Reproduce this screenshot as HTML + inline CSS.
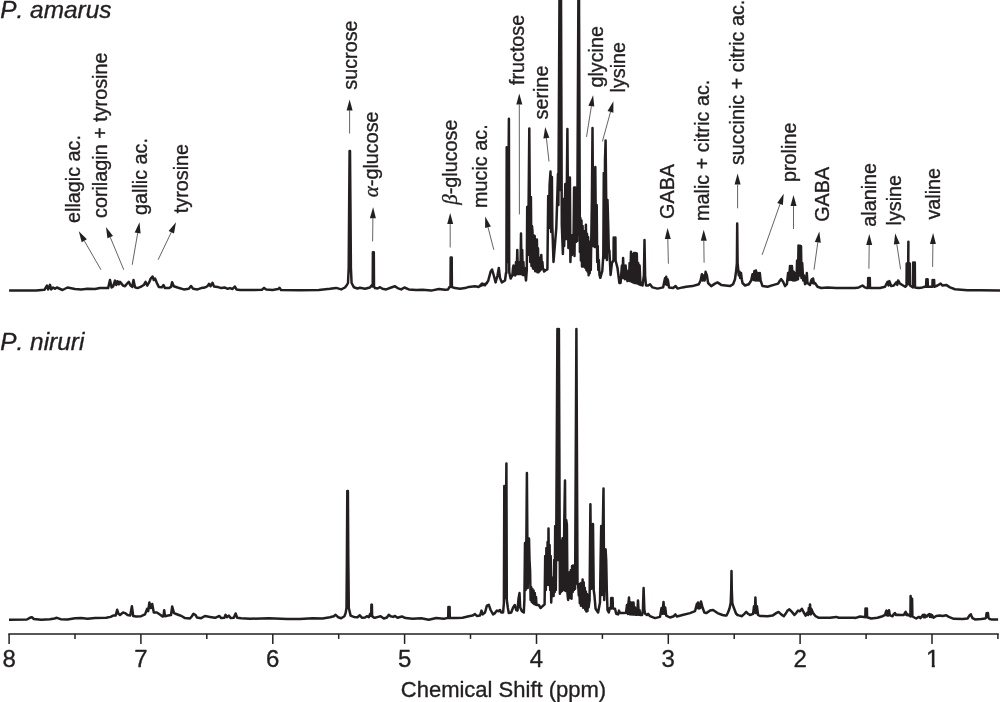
<!DOCTYPE html>
<html lang="en"><head><meta charset="utf-8"><title>1H NMR spectra of P. amarus and P. niruri</title>
<style>
html,body{margin:0;padding:0;background:#fff;}
body{width:1000px;height:702px;overflow:hidden;}
svg{display:block;}
text{font-family:"Liberation Sans",Arial,Helvetica,sans-serif;fill:#231f20;font-kerning:none;stroke:#231f20;stroke-width:0.35px;stroke-linejoin:round;}
.lab{font-size:19.8px;}
.ttl{font-size:24.4px;font-style:italic;font-kerning:none;}
.tick{font-size:24px;text-anchor:middle;}
.axt{font-size:22px;text-anchor:middle;}
.gr{font-family:"Liberation Serif","DejaVu Serif",serif;font-style:italic;font-size:21px;}
.spec{fill:none;stroke:#231f20;stroke-width:2.5;stroke-linejoin:round;stroke-linecap:butt;}
.arr{stroke:#231f20;stroke-width:0.7;fill:none;}
.ah{fill:#231f20;stroke:none;}
.ax{stroke:#231f20;stroke-width:1.5;fill:none;}
</style></head><body>
<svg width="1000" height="702" viewBox="0 0 1000 702">
<rect width="1000" height="702" fill="#fff"/>
<text class="ttl" x="0.3" y="18.3">P. amarus</text>
<text class="ttl" x="0.3" y="349.8">P. niruri</text>
<polyline class="spec" points="9.1,290.6 36.2,290.4 44.4,289.8 46.9,285.6 48.1,289.4 50.0,284.8 51.2,289.4 53.1,287.5 55.0,288.8 56.9,287.5 62.5,290.0 67.5,287.5 75.0,289.0 81.2,289.4 87.5,288.8 95.0,289.1 100.0,288.1 108.1,288.1 110.0,280.0 111.6,287.5 113.1,286.5 115.0,280.6 116.2,285.0 117.5,281.2 118.8,284.4 120.0,281.9 123.1,285.6 125.0,286.2 126.9,283.8 128.8,281.9 130.6,285.6 132.2,286.9 133.5,280.0 135.0,287.2 137.5,288.1 140.6,286.9 143.8,285.0 145.6,281.9 147.2,285.6 149.4,281.9 150.6,278.8 152.5,276.5 153.8,280.0 155.0,278.5 156.9,283.1 158.8,286.9 161.9,287.2 163.5,285.0 165.0,288.1 168.8,288.1 171.0,286.9 172.1,282.2 173.8,286.2 177.5,287.5 183.8,289.4 188.8,288.8 191.0,286.0 193.1,288.8 197.5,289.4 201.2,288.1 205.0,287.5 207.5,286.2 209.0,283.8 210.6,286.2 212.5,282.8 214.0,286.5 217.5,286.9 221.2,288.1 225.0,287.5 227.5,288.8 230.0,288.1 232.5,289.0 234.8,286.5 236.5,289.4 240.0,290.0 250.0,290.0 250.0,290.0 261.9,289.8 264.1,287.9 266.2,289.4 272.5,290.0 278.1,289.1 279.6,287.8 281.0,290.0 300.0,290.2 318.8,290.0 330.0,288.8 336.2,287.9 341.2,289.4 345.0,287.5 346.9,285.0 348.0,283.0 348.7,268.0 349.2,200.0 349.6,151.0 350.0,151.0 350.4,200.0 350.9,268.0 351.6,283.0 353.8,287.2 357.5,288.5 360.0,287.8 365.0,288.8 370.0,287.5 371.5,285.6 372.7,286.5 372.9,252.3 373.4,285.0 373.8,252.3 374.0,286.5 375.0,288.1 377.5,288.5 380.0,287.2 382.5,288.8 386.2,289.4 391.2,287.5 395.0,286.2 397.5,288.1 401.2,289.4 404.4,287.5 408.8,289.4 416.2,290.0 422.5,289.8 431.2,290.6 438.8,289.0 445.0,289.8 448.1,289.4 449.5,286.9 450.5,287.0 450.7,257.5 451.2,285.5 451.7,257.5 451.9,287.0 455.0,288.1 460.0,288.8 465.0,288.1 468.8,286.9 475.0,286.2 478.8,286.9 482.2,283.5 483.8,285.0 486.9,283.1 480.0,286.1 482.5,284.3 485.0,285.3 488.1,281.1 490.6,271.8 492.1,269.5 493.8,275.5 495.6,282.4 497.5,275.5 498.8,268.0 500.0,278.0 501.9,282.4 505.0,280.5 506.0,273.0 506.4,273.0 506.7,147.3 507.8,262.0 508.9,118.8 509.2,272.0 510.6,278.6 512.3,275.5 513.0,268.0 513.5,265.5 514.1,275.0 514.7,266.0 515.3,275.5 516.0,262.0 516.6,274.0 517.3,249.9 517.9,274.0 518.5,262.0 519.1,274.0 519.8,265.0 520.4,274.0 521.0,233.6 521.6,274.0 522.2,250.0 522.8,275.0 523.4,262.0 524.0,275.0 524.6,268.0 526.0,280.5 526.8,270.0 527.2,207.0 527.8,255.0 528.5,215.0 529.3,128.5 530.2,262.0 530.9,197.0 531.5,266.0 532.0,226.0 532.5,231.7 533.0,268.4 533.6,235.2 534.1,269.0 534.7,235.9 535.2,271.3 535.8,240.2 536.3,269.7 536.9,239.4 537.4,272.3 538.0,248.3 538.5,272.3 539.1,257.6 539.6,271.3 540.2,258.8 540.7,270.0 541.3,254.9 541.8,267.9 542.4,262.0 542.9,268.9 543.5,268.9 544.0,271.6 546.0,270.0 547.4,269.3 548.2,196.0 548.9,228.0 549.6,185.0 550.5,171.5 551.2,232.0 551.9,177.0 552.3,225.0 553.5,262.0 556.3,228.0 557.2,200.0 558.0,174.0 558.4,205.0 559.5,-6.0 560.2,190.0 561.0,-6.0 561.8,225.0 562.9,253.9 563.6,199.0 564.2,246.0 565.3,184.0 566.3,238.9 566.9,180.0 567.4,129.0 567.9,200.0 568.4,247.9 569.0,195.0 569.9,177.5 570.4,261.9 571.3,235.0 571.9,254.9 572.6,238.0 573.4,251.9 574.1,187.4 574.5,255.9 575.2,187.4 575.9,241.9 576.4,187.4 577.2,241.0 578.4,-6.0 578.7,235.0 579.0,-6.0 579.9,251.9 580.4,218.0 580.9,260.5 581.5,220.4 582.0,266.4 582.6,226.1 583.1,266.4 583.7,231.1 584.2,266.5 584.8,234.0 585.3,267.7 585.9,224.8 586.4,269.9 587.0,233.7 587.5,271.6 588.1,236.9 588.6,275.2 589.2,241.4 589.7,273.2 590.3,247.2 590.8,270.1 591.9,200.0 592.5,128.0 593.3,246.0 594.2,185.0 594.8,247.0 595.3,167.0 596.0,247.0 596.7,205.0 597.2,262.0 597.7,246.0 598.3,270.0 598.8,260.0 599.5,275.0 600.3,277.8 602.3,270.8 603.3,255.0 603.8,173.0 604.4,258.0 605.0,160.0 605.6,140.4 606.2,200.0 606.9,260.0 607.5,200.0 608.2,225.0 608.8,250.0 609.4,250.5 610.6,274.9 611.9,263.0 613.5,260.5 613.7,237.4 614.6,259.0 615.4,237.4 615.6,260.5 617.5,268.0 619.4,283.0 620.6,283.0 621.9,265.5 622.5,278.0 623.1,258.0 623.8,278.0 624.4,266.8 625.0,279.2 625.6,265.5 626.5,276.8 627.5,281.1 628.5,270.5 629.0,280.5 629.6,263.0 630.2,281.1 631.0,251.8 631.8,281.8 632.5,254.2 633.2,282.4 634.0,253.0 634.8,283.0 635.5,253.0 636.2,283.0 636.8,253.6 637.5,283.6 638.2,263.0 639.0,284.2 639.6,265.5 640.5,284.9 641.2,284.2 642.5,285.5 643.9,275.5 644.5,239.9 645.1,275.5 646.0,285.5 648.1,285.5 650.0,284.2 652.5,287.4 657.5,288.6 663.1,287.4 664.4,281.1 665.1,278.0 665.5,284.2 666.2,276.8 667.0,284.9 667.5,279.2 668.1,281.1 669.0,287.4 673.1,288.0 675.6,286.1 677.5,288.6 682.5,287.4 686.2,286.8 692.5,286.1 698.8,284.2 700.6,280.5 701.9,274.2 702.8,280.5 703.8,275.5 704.6,280.5 705.6,271.8 706.9,275.5 708.1,283.0 711.2,286.1 715.0,283.6 717.5,282.4 721.2,284.9 730.0,286.1 730.0,286.1 733.1,284.2 735.0,279.2 736.2,270.5 736.9,263.0 737.2,223.6 737.6,263.0 738.2,269.2 738.8,275.5 739.5,271.8 740.2,278.0 741.0,273.0 741.8,279.2 742.5,283.0 745.0,285.5 748.8,284.2 751.2,280.5 752.5,274.2 753.5,279.9 754.4,271.1 755.4,280.5 756.0,270.5 757.0,280.5 757.8,273.0 758.8,280.5 759.8,273.0 760.6,280.5 762.5,286.1 767.5,286.8 773.8,284.9 778.1,283.6 780.0,280.5 781.2,279.2 783.1,281.8 785.0,286.1 786.9,284.2 788.1,273.0 789.0,279.9 790.0,266.1 791.0,279.9 791.9,266.1 792.9,280.5 793.8,271.8 794.8,280.5 795.6,273.0 796.5,279.9 797.1,260.5 798.0,279.2 798.5,245.5 799.5,275.5 800.2,245.8 801.0,246.1 801.5,278.0 802.2,263.0 803.2,280.5 804.0,275.5 805.0,284.2 806.2,283.0 806.8,273.0 807.5,283.0 810.0,284.9 811.2,280.5 811.9,279.2 812.5,283.0 813.1,278.6 814.0,283.6 815.0,283.0 817.5,286.8 821.2,288.0 827.5,287.4 836.2,288.0 855.0,288.0 855.0,288.0 858.8,287.4 862.5,285.5 865.0,287.4 866.9,288.0 868.0,288.0 868.2,278.0 869.0,286.5 869.8,278.0 870.0,288.0 873.8,288.0 880.0,288.0 885.0,286.8 887.5,281.8 888.5,285.5 889.4,281.1 891.2,286.1 893.8,285.5 896.2,282.4 897.2,284.9 898.1,280.5 900.0,283.6 903.1,285.5 905.2,286.8 906.5,285.5 906.7,263.6 907.5,284.0 908.2,263.6 908.4,241.8 908.3,263.6 909.0,284.0 909.8,263.6 910.0,285.5 913.0,287.4 913.2,262.4 914.0,285.9 914.8,262.4 915.0,287.4 918.8,288.0 922.5,287.4 924.8,286.8 926.1,286.8 926.4,279.2 927.0,285.2 927.6,279.2 927.9,286.8 932.4,286.8 932.6,279.9 933.4,285.2 934.1,279.9 934.4,286.8 937.5,285.5 940.6,283.6 942.5,285.5 946.2,284.9 950.0,287.4 955.0,289.2 967.5,290.2 980.0,290.2 1000.0,290.5"/>
<polyline class="spec" points="9.0,619.8 26.9,619.5 29.8,617.8 31.9,617.2 33.8,619.0 41.2,619.8 50.0,619.2 54.4,618.5 56.9,617.8 60.6,619.2 67.5,619.5 75.0,618.2 81.2,618.1 87.5,618.8 95.0,618.0 106.2,617.8 110.6,616.9 113.1,615.6 115.6,615.6 117.2,609.8 118.5,613.8 120.0,615.0 123.1,612.5 125.0,613.1 127.5,615.0 130.2,615.6 131.9,606.2 133.2,616.0 136.2,616.5 141.2,616.2 145.0,614.4 147.2,608.8 148.2,611.2 149.4,602.5 150.8,608.1 152.2,604.0 153.8,612.5 156.9,612.5 160.6,615.0 162.5,616.5 163.5,616.2 164.2,610.2 165.0,616.2 168.1,615.6 171.0,615.0 172.2,606.5 174.0,613.1 176.2,614.0 178.8,615.0 181.9,616.2 185.0,618.1 190.0,618.5 191.9,616.2 193.5,613.8 195.6,615.0 196.9,617.5 201.2,618.2 205.0,616.0 210.0,616.9 215.0,617.8 219.4,616.0 221.2,618.1 224.4,617.8 225.6,614.8 226.9,617.2 228.8,615.6 230.6,618.1 233.8,617.8 235.6,613.5 237.2,617.8 241.2,618.2 250.0,618.8 250.0,618.8 268.8,618.2 287.5,619.0 300.0,619.0 312.5,618.2 322.5,618.5 330.0,617.2 333.8,616.2 335.6,614.8 338.1,617.2 341.2,618.2 344.4,616.2 345.6,613.1 346.5,608.0 346.9,560.0 347.3,491.0 347.9,491.0 348.3,560.0 348.8,608.0 350.6,615.6 353.8,616.9 357.5,617.2 359.8,615.2 361.9,617.8 365.0,617.5 366.9,616.2 368.8,617.2 370.2,613.8 371.2,616.0 371.4,604.8 371.6,614.5 371.9,604.8 372.1,616.0 373.8,617.5 375.0,617.8 378.1,616.9 380.6,616.2 383.8,618.5 386.9,617.5 388.8,614.8 390.6,616.2 393.1,616.9 395.0,616.0 397.5,617.8 401.9,616.5 405.6,618.1 412.5,618.8 421.2,618.2 428.8,619.8 436.2,618.0 443.8,618.8 446.9,618.1 448.2,618.0 448.4,606.9 449.0,616.5 449.6,606.9 449.8,618.0 456.2,618.1 462.5,617.8 468.8,616.2 472.5,615.6 475.0,614.0 476.9,616.0 480.0,615.6 481.5,610.6 482.8,614.4 485.0,612.5 486.9,605.6 488.8,604.8 490.6,610.0 493.1,614.4 495.0,613.1 496.9,610.6 498.8,611.2 500.0,610.0 501.2,612.5 503.1,612.5 503.9,603.0 504.3,486.1 505.3,598.0 506.4,463.6 506.8,600.0 507.8,607.5 508.8,613.1 511.2,612.5 513.1,607.5 514.8,605.0 516.2,610.0 517.5,610.6 518.5,598.8 519.5,593.1 520.2,607.5 521.9,611.2 523.8,612.5 524.4,600.0 525.0,543.0 525.6,590.0 526.3,548.0 526.9,473.0 527.7,588.0 528.4,548.0 529.0,538.6 529.5,560.0 530.1,571.0 530.6,600.0 531.2,587.0 531.8,602.0 532.4,589.0 533.0,603.0 533.6,590.5 534.2,604.0 534.8,593.0 535.4,604.5 536.0,597.0 536.5,605.0 536.9,605.0 538.8,605.0 540.6,608.0 542.5,606.2 544.6,604.4 545.2,556.0 545.8,590.0 546.4,548.0 547.0,585.0 547.6,542.0 548.1,580.0 548.5,528.6 549.0,585.0 549.6,545.0 550.2,590.0 550.7,556.0 551.2,602.5 552.0,585.0 552.5,590.0 553.1,577.5 553.6,596.0 554.2,560.0 554.7,592.0 555.2,526.0 555.8,590.0 556.3,530.0 557.4,329.0 558.1,560.0 558.9,329.0 559.9,593.8 560.3,540.8 560.8,592.1 561.4,540.4 561.9,591.1 562.5,538.2 563.0,588.6 563.6,590.0 564.3,520.0 565.0,480.5 565.6,591.0 566.2,520.0 566.9,524.9 567.5,594.0 568.1,600.0 568.6,575.0 569.2,598.0 569.8,572.0 570.4,596.0 570.9,570.0 571.5,598.8 572.1,566.0 572.7,592.0 573.3,565.6 573.9,590.0 574.5,566.2 575.1,588.8 576.4,329.0 577.5,583.8 578.2,585.1 578.8,595.4 579.3,584.3 579.8,603.1 580.4,583.6 580.9,605.8 581.5,582.7 582.0,605.4 582.6,579.5 583.1,607.7 583.7,582.3 584.2,607.4 584.8,587.7 585.3,609.7 585.9,591.6 586.4,611.5 587.0,593.9 587.5,610.9 588.1,595.0 588.6,607.4 589.6,600.0 590.4,504.2 591.2,588.8 591.8,530.0 592.4,588.0 593.0,524.0 593.7,590.0 594.4,595.0 595.6,608.8 598.1,612.5 600.0,602.5 600.6,560.0 601.2,526.0 601.9,595.0 602.6,540.0 603.5,488.4 604.2,600.0 604.9,550.0 605.6,549.4 606.2,560.0 606.8,590.0 607.5,610.0 608.8,612.5 609.8,608.1 611.0,608.5 611.2,598.1 611.9,607.0 612.6,598.1 612.9,608.5 615.0,608.8 616.2,613.8 618.1,614.4 619.0,610.6 620.0,613.1 623.8,613.1 626.0,612.8 627.0,605.0 627.8,614.0 628.5,602.5 629.0,597.5 629.8,614.2 630.5,602.5 631.2,614.4 632.0,602.5 632.8,614.5 633.5,602.5 634.2,614.6 635.0,607.5 635.8,614.8 636.5,610.0 637.2,614.8 638.0,600.6 638.8,614.8 639.5,610.0 640.2,615.0 642.1,615.0 642.9,610.0 643.6,588.1 644.4,610.0 645.1,613.8 646.9,615.0 648.1,613.8 650.0,616.2 655.0,618.1 660.0,616.9 661.5,608.1 662.5,613.8 663.5,601.9 664.5,613.8 665.2,607.5 666.2,615.6 670.0,617.5 673.8,616.2 675.4,614.4 676.9,616.5 682.5,615.0 690.0,613.1 695.0,611.2 696.9,603.8 697.6,608.1 698.1,602.5 698.9,608.5 699.4,605.0 700.1,608.1 701.0,601.5 702.5,607.5 704.4,612.5 706.2,613.1 710.0,610.6 713.1,610.0 717.5,613.1 722.5,615.0 725.0,615.4 726.5,615.5 728.0,612.5 729.5,608.5 730.7,603.0 731.2,590.0 731.5,571.0 731.8,590.0 732.3,603.0 733.5,607.0 734.5,609.5 736.0,613.5 737.5,615.0 738.8,615.4 741.9,616.2 744.4,613.8 746.2,611.9 748.1,613.8 750.0,615.0 753.1,613.8 754.0,606.2 754.8,612.5 755.4,597.5 756.1,613.1 756.9,606.2 758.1,615.0 760.0,616.0 767.5,616.2 772.5,615.6 776.2,613.1 778.5,611.9 781.2,614.4 783.8,616.2 785.6,613.8 787.5,610.6 789.4,609.4 791.9,611.9 794.4,615.0 796.2,613.1 798.1,610.6 800.0,611.2 801.9,608.8 803.8,612.5 805.6,615.6 807.5,612.5 808.2,615.0 808.8,608.1 809.5,613.8 810.0,604.4 810.8,614.4 811.2,608.8 813.1,613.1 815.6,616.2 818.8,617.8 830.0,617.8 836.2,616.9 838.8,617.8 855.0,617.8 855.0,618.1 860.0,616.5 864.0,616.9 865.3,617.2 865.5,608.5 866.2,615.8 866.9,608.5 867.1,617.2 871.2,618.5 877.5,617.8 882.5,616.2 885.0,615.0 885.9,611.9 886.5,610.6 887.1,615.4 887.8,611.2 888.4,615.5 889.0,610.2 889.8,615.0 890.6,615.6 892.5,616.2 894.1,613.8 895.0,613.1 895.9,615.0 897.5,614.8 901.2,615.0 903.8,615.0 904.8,613.1 905.6,611.9 906.4,615.0 907.2,613.8 908.1,615.4 909.0,615.0 910.4,616.5 910.6,598.8 910.6,596.0 910.6,598.8 911.4,615.0 912.1,598.8 912.4,616.5 916.2,618.5 918.8,616.9 920.6,618.1 922.5,615.6 923.1,614.8 923.8,617.2 924.5,614.8 925.2,617.2 926.0,615.6 926.9,616.5 928.5,614.5 929.4,614.0 930.0,616.9 930.8,614.5 931.5,617.0 932.2,615.2 933.5,617.8 936.2,616.0 940.0,615.5 942.5,616.0 946.2,615.2 948.8,616.9 953.8,618.8 962.5,619.0 967.5,618.5 969.4,615.6 970.1,614.8 970.9,614.4 971.6,616.2 972.5,618.1 975.0,619.4 981.2,619.0 985.0,618.5 986.0,617.8 986.6,613.2 987.9,613.0 988.5,617.8 989.5,619.0 991.2,619.4 998.1,619.4"/>
<text class="lab" transform="translate(79.9,223.0) rotate(-90)">ellagic ac.</text>
<text class="lab" transform="translate(107.3,218.0) rotate(-90)">corilagin + tyrosine</text>
<text class="lab" transform="translate(146.5,215.0) rotate(-90)">gallic ac.</text>
<text class="lab" transform="translate(187.6,213.2) rotate(-90)">tyrosine</text>
<text class="lab" transform="translate(356.5,89.7) rotate(-90)">sucrose</text>
<text class="lab" transform="translate(378.1,197.2) rotate(-90)"><tspan class="gr">α</tspan>-glucose</text>
<text class="lab" transform="translate(456.9,204.8) rotate(-90)"><tspan class="gr">β</tspan>-glucose</text>
<text class="lab" transform="translate(486.5,207.9) rotate(-90)">mucic ac.</text>
<text class="lab" transform="translate(523.8,85.1) rotate(-90)">fructose</text>
<text class="lab" transform="translate(548.3,119.5) rotate(-90)">serine</text>
<text class="lab" transform="translate(603.3,87.6) rotate(-90)">glycine</text>
<text class="lab" transform="translate(624.6,92.5) rotate(-90)">lysine</text>
<text class="lab" transform="translate(673.6,218.9) rotate(-90)">GABA</text>
<text class="lab" transform="translate(708.9,220.9) rotate(-90)">malic + citric ac.</text>
<text class="lab" transform="translate(743.5,165.1) rotate(-90)">succinic + citric ac.</text>
<text class="lab" transform="translate(796.0,182.0) rotate(-90)">proline</text>
<text class="lab" transform="translate(828.5,221.8) rotate(-90)">GABA</text>
<text class="lab" transform="translate(876.0,226.7) rotate(-90)">alanine</text>
<text class="lab" transform="translate(900.9,225.5) rotate(-90)">lysine</text>
<text class="lab" transform="translate(939.8,219.6) rotate(-90)">valine</text>
<line class="arr" x1="101.0" y1="269.8" x2="84.3" y2="240.8"/>
<polygon class="ah" points="78.8,231.2 86.9,239.3 81.7,242.3"/>
<line class="arr" x1="123.8" y1="269.8" x2="110.2" y2="237.1"/>
<polygon class="ah" points="106.0,226.9 113.0,235.9 107.4,238.2"/>
<line class="arr" x1="132.2" y1="264.8" x2="137.7" y2="233.1"/>
<polygon class="ah" points="139.5,222.2 140.6,233.6 134.7,232.6"/>
<line class="arr" x1="158.1" y1="259.8" x2="171.3" y2="232.2"/>
<polygon class="ah" points="176.0,222.2 174.0,233.5 168.6,230.9"/>
<line class="arr" x1="349.6" y1="133.5" x2="349.6" y2="110.4"/>
<polygon class="ah" points="349.6,99.4 352.6,110.4 346.6,110.4"/>
<line class="arr" x1="372.6" y1="241.4" x2="372.9" y2="218.2"/>
<polygon class="ah" points="373.1,207.2 375.9,218.3 369.9,218.2"/>
<line class="arr" x1="450.2" y1="247.5" x2="450.2" y2="224.1"/>
<polygon class="ah" points="450.2,213.1 453.2,224.1 447.2,224.1"/>
<line class="arr" x1="493.8" y1="249.8" x2="488.0" y2="227.2"/>
<polygon class="ah" points="485.2,216.5 490.9,226.4 485.1,227.9"/>
<line class="arr" x1="519.4" y1="214.4" x2="519.3" y2="104.6"/>
<polygon class="ah" points="519.3,93.6 522.3,104.6 516.3,104.6"/>
<line class="arr" x1="549.0" y1="161.5" x2="546.4" y2="138.0"/>
<polygon class="ah" points="545.2,127.1 549.4,137.7 543.4,138.4"/>
<line class="arr" x1="586.5" y1="136.9" x2="591.4" y2="106.2"/>
<polygon class="ah" points="593.1,95.3 594.3,106.6 588.4,105.7"/>
<line class="arr" x1="602.4" y1="141.5" x2="610.5" y2="111.9"/>
<polygon class="ah" points="613.4,101.3 613.4,112.7 607.6,111.1"/>
<line class="arr" x1="668.4" y1="263.7" x2="667.8" y2="239.0"/>
<polygon class="ah" points="667.6,228.0 670.8,238.9 664.8,239.1"/>
<line class="arr" x1="704.1" y1="262.7" x2="703.8" y2="240.7"/>
<polygon class="ah" points="703.7,229.7 706.8,240.7 700.8,240.7"/>
<line class="arr" x1="737.6" y1="208.3" x2="737.6" y2="184.6"/>
<polygon class="ah" points="737.6,173.6 740.6,184.6 734.6,184.6"/>
<line class="arr" x1="762.1" y1="254.9" x2="780.0" y2="204.1"/>
<polygon class="ah" points="783.7,193.7 782.9,205.1 777.2,203.1"/>
<line class="arr" x1="793.5" y1="229.0" x2="793.5" y2="206.1"/>
<polygon class="ah" points="793.5,195.1 796.5,206.1 790.5,206.1"/>
<line class="arr" x1="814.0" y1="269.7" x2="817.8" y2="242.4"/>
<polygon class="ah" points="819.3,231.5 820.8,242.8 814.8,242.0"/>
<line class="arr" x1="868.9" y1="268.7" x2="869.2" y2="245.0"/>
<polygon class="ah" points="869.3,234.0 872.2,245.0 866.2,245.0"/>
<line class="arr" x1="900.6" y1="269.3" x2="896.8" y2="244.2"/>
<polygon class="ah" points="895.2,233.3 899.8,243.7 893.9,244.6"/>
<line class="arr" x1="932.6" y1="266.9" x2="932.9" y2="243.9"/>
<polygon class="ah" points="933.1,232.9 935.9,243.9 929.9,243.9"/>
<line class="ax" x1="8.3" y1="634.1" x2="998.7" y2="634.1"/>
<line class="ax" x1="9.1" y1="634.1" x2="9.1" y2="643.9"/>
<text class="tick" x="9.1" y="667.3">8</text>
<line class="ax" x1="75.0" y1="634.1" x2="75.0" y2="638.9"/>
<line class="ax" x1="140.9" y1="634.1" x2="140.9" y2="643.9"/>
<text class="tick" x="140.9" y="667.3">7</text>
<line class="ax" x1="206.8" y1="634.1" x2="206.8" y2="638.9"/>
<line class="ax" x1="272.8" y1="634.1" x2="272.8" y2="643.9"/>
<text class="tick" x="272.8" y="667.3">6</text>
<line class="ax" x1="338.7" y1="634.1" x2="338.7" y2="638.9"/>
<line class="ax" x1="404.6" y1="634.1" x2="404.6" y2="643.9"/>
<text class="tick" x="404.6" y="667.3">5</text>
<line class="ax" x1="470.5" y1="634.1" x2="470.5" y2="638.9"/>
<line class="ax" x1="536.5" y1="634.1" x2="536.5" y2="643.9"/>
<text class="tick" x="536.5" y="667.3">4</text>
<line class="ax" x1="602.4" y1="634.1" x2="602.4" y2="638.9"/>
<line class="ax" x1="668.3" y1="634.1" x2="668.3" y2="643.9"/>
<text class="tick" x="668.3" y="667.3">3</text>
<line class="ax" x1="734.2" y1="634.1" x2="734.2" y2="638.9"/>
<line class="ax" x1="800.1" y1="634.1" x2="800.1" y2="643.9"/>
<text class="tick" x="800.1" y="667.3">2</text>
<line class="ax" x1="866.1" y1="634.1" x2="866.1" y2="638.9"/>
<line class="ax" x1="932.0" y1="634.1" x2="932.0" y2="643.9"/>
<clipPath id="one"><rect x="920.0" y="640" width="24" height="24.5"/><rect x="931.80" y="664" width="2.95" height="5"/></clipPath>
<text class="tick" clip-path="url(#one)" x="932.7" y="667.3">1</text>
<line class="ax" x1="997.9" y1="634.1" x2="997.9" y2="638.9"/>
<text class="axt" x="503.5" y="697">Chemical Shift (ppm)</text>
</svg></body></html>
